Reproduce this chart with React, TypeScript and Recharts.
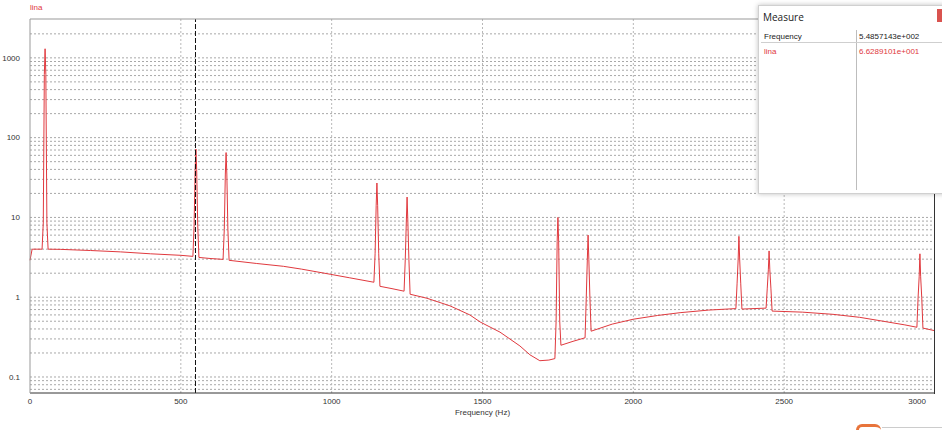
import { LineChart, Line, XAxis, YAxis, ReferenceLine } from "recharts";

// spectrum of "lina" (Hz / amplitude)
const freqHz = [
  0, 7, 20, 40, 44, 47.5, 50, 52.5, 56, 60, 100, 200, 300, 400, 500, 540, 544, 547.5, 550, 552.5, 556, 560,
  600, 640, 644, 647.5, 650, 652.5, 656, 660, 750, 840, 900, 995, 1060, 1140, 1144, 1147.5, 1150, 1152.5, 1156,
  1160, 1200, 1240, 1244, 1247.5, 1250, 1252.5, 1256, 1260, 1316, 1392, 1458, 1492, 1558, 1624, 1657, 1690,
  1720, 1740, 1744, 1747.5, 1750, 1752.5, 1756, 1760, 1800, 1840, 1844, 1847.5, 1850, 1852.5, 1856, 1860, 1930,
  2000, 2080, 2155, 2250, 2340, 2344, 2347.5, 2350, 2352.5, 2356, 2360, 2400, 2440, 2444, 2447.5, 2450, 2452.5,
  2456, 2460, 2560, 2662, 2750, 2828, 2900, 2940, 2944, 2947.5, 2950, 2952.5, 2956, 2960, 3000,
];
const linaAmp = [
  2.9, 4.0, 4.0, 4.0, 8.5, 620, 1300, 620, 8.5, 4.0, 3.98, 3.85, 3.7, 3.5, 3.35, 3.25, 8, 40, 72, 40, 8, 3.15,
  3.05, 2.98, 7, 35, 65, 35, 7, 2.9, 2.65, 2.44, 2.25, 1.94, 1.75, 1.54, 3.5, 14, 27, 14, 3.5,
  1.37, 1.28, 1.19, 3, 9, 18, 9, 3, 1.09, 0.97, 0.78, 0.6, 0.49, 0.365, 0.245, 0.19, 0.16,
  0.163, 0.17, 0.5, 5, 10, 5, 0.5, 0.25, 0.28, 0.31, 1, 3, 6, 3, 1, 0.375, 0.46,
  0.53, 0.59, 0.64, 0.69, 0.72, 1.5, 3, 5.8, 3, 1.5, 0.71, 0.72, 0.73, 1.3, 2.2, 3.8, 2.2,
  1.3, 0.67, 0.65, 0.61, 0.56, 0.5, 0.45, 0.42, 1.0, 1.8, 3.5, 1.8, 1.0, 0.41, 0.38,
];

const xTicks = [0, 500, 1000, 1500, 2000, 2500, 3000];
const xGrid = [500, 1000, 1500, 2000, 2500];
const yTicks = [0.1, 1, 10, 100, 1000];
const yGrid = [
  0.07, 0.08, 0.09, 0.1, 0.2, 0.3, 0.4, 0.5, 0.6, 0.7, 0.8, 0.9,
  1, 2, 3, 4, 5, 6, 7, 8, 9, 10, 20, 30, 40, 50, 60, 70, 80, 90,
  100, 200, 300, 400, 500, 600, 700, 800, 900, 1000, 2000,
];
const yDomain = [0.063, 3070];
const cursorHz = 548.57143;
const measureRows = [
  { name: "Frequency", value: "5.4857143e+002", color: "#222" },
  { name: "lina", value: "6.6289101e+001", color: "#e0393e" },
];

const data = freqHz.map((f, i) => ({ f, lina: linaAmp[i] }));

const FONT = "'Liberation Sans', Arial, sans-serif";

function XTick(props: any) {
  const { x, y, payload } = props;
  const last = payload.value === 3000;
  return (
    <text x={x} y={y} dy="0.71em" textAnchor={last ? "end" : "middle"} fontSize={8} fill="#333" fontFamily={FONT}>
      {payload.value}
    </text>
  );
}

export default function App() {
  return (
    <div style={{ position: "absolute", left: 0, top: 0, width: 942, height: 430, background: "#fff", overflow: "hidden" }}>
      <div style={{ position: "absolute", left: 30, top: 3, fontSize: 8, color: "#e0393e", fontFamily: FONT }}>lina</div>
      <LineChart width={942} height={430} data={data} margin={{ top: 0, right: 7, left: 0, bottom: 0 }}>
        {yGrid.map((v) => (
          <ReferenceLine key={"h" + v} y={v} stroke="#a8a8a8" strokeDasharray="2 2" />
        ))}
        {xGrid.map((v) => (
          <ReferenceLine key={"v" + v} x={v} stroke="#b8b8b8" strokeDasharray="2 2" />
        ))}
        <XAxis
          dataKey="f"
          type="number"
          domain={[0, 3000]}
          ticks={xTicks}
          height={37}
          tickLine={false}
          tickSize={0}
          tickMargin={5}
          stroke="#333"
          tick={<XTick />}
          label={{ value: "Frequency (Hz)", position: "insideBottom", offset: 15, fontSize: 8, fill: "#333", fontFamily: FONT }}
        />
        <XAxis xAxisId="top" orientation="top" type="number" domain={[0, 3000]} height={19} tick={false} tickLine={false} stroke="#999" />
        <YAxis
          scale="log"
          domain={yDomain}
          allowDataOverflow
          ticks={yTicks}
          width={30}
          tickLine={false}
          tickSize={0}
          tickMargin={10}
          stroke="#999"
          tick={{ fontSize: 8, fill: "#333", fontFamily: FONT }}
        />
        <Line
          type="linear"
          dataKey="lina"
          stroke="#e0393e"
          strokeWidth={1}
          dot={false}
          activeDot={false}
          isAnimationActive={false}
        />
        <ReferenceLine x={cursorHz} stroke="#111" strokeDasharray="5 2" />
      </LineChart>
      {/* right frame edge */}
      <div style={{ position: "absolute", left: 934, top: 19, width: 1, height: 375, background: "#333" }} />

      {/* measure panel */}
      <div
        style={{
          position: "absolute",
          left: 758,
          top: 5,
          width: 195,
          height: 187,
          background: "#fff",
          border: "1px solid #d0d0d0",
          boxShadow: "0 0 5px rgba(0,0,0,0.25)",
          fontFamily: FONT,
        }}
      >
        <div style={{ position: "absolute", left: 4, top: 4, fontSize: 10, color: "#222", fontFamily: "'Open Sans', 'Noto Sans', sans-serif" }}>Measure</div>
        <div style={{ position: "absolute", left: 178, top: 3, width: 8, height: 13, background: "#d9534f" }} />
        <div style={{ position: "absolute", left: 97, top: 24, width: 1, height: 160, background: "#bdbdbd" }} />
        <div style={{ position: "absolute", left: 2, top: 36, width: 190, height: 1, background: "#cfcfcf" }} />
        {measureRows.map((r, i) => (
          <div key={r.name}>
            <div style={{ position: "absolute", left: 5, top: 26 + i * 15, fontSize: 8, color: r.color }}>{r.name}</div>
            <div style={{ position: "absolute", left: 100, top: 26 + i * 15, fontSize: 8, color: r.color }}>{r.value}</div>
          </div>
        ))}
      </div>
      <div style={{ position: "absolute", left: 856, top: 424, width: 22, height: 12, borderTop: "3px solid #e8743b", borderLeft: "3px solid #e8743b", borderRadius: "6px 6px 0 0" }} />
      <div style={{ position: "absolute", left: 882, top: 427, width: 60, height: 1, background: "#ccc" }} />
    </div>
  );
}
